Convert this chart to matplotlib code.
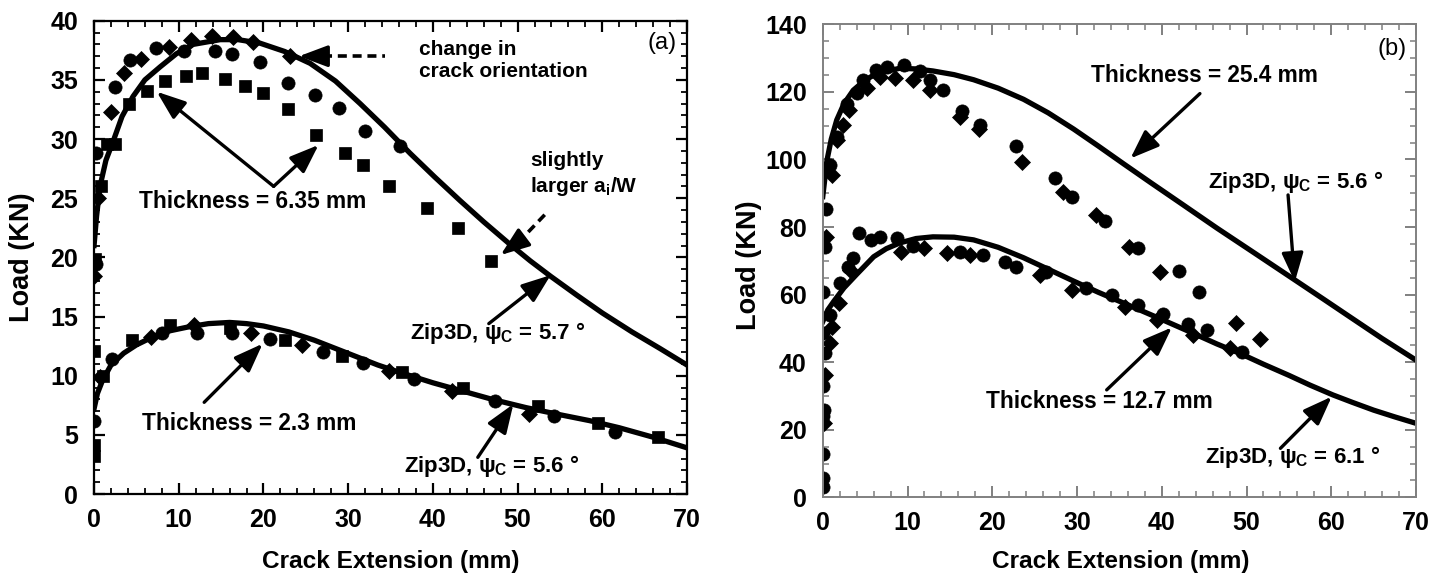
import matplotlib
matplotlib.use("Agg")
import matplotlib.pyplot as plt
from matplotlib.ticker import MultipleLocator

plt.rcParams['font.family'] = ['Liberation Sans', 'DejaVu Sans']
plt.rcParams['font.weight'] = 'bold'
plt.rcParams['mathtext.fontset'] = 'custom'
plt.rcParams['mathtext.rm'] = 'Liberation Sans:bold'
plt.rcParams['mathtext.it'] = 'Liberation Sans:bold'
plt.rcParams['mathtext.bf'] = 'Liberation Sans:bold'

# ---- panel (a) : thin sheets ----
# Zip3D curves
a_thick_x = [0, 0.3, 0.7, 1.4, 2.3, 3.3, 4.6, 6.0, 7.8, 9.7, 11.7, 14.9, 17.0, 19.6, 22.5, 25.5,
             28.5, 31.4, 34.3, 37.3, 40.2, 43.2, 46.0, 49.1, 51.5, 53.9, 57.0, 60.0, 63.5, 66.8, 70.0]
a_thick_y = [21.0, 23.5, 26.0, 28.2, 29.9, 31.9, 33.6, 35.0, 36.1, 37.2, 38.0, 38.4, 38.4, 38.1, 37.4, 36.4,
             34.9, 33.0, 31.0, 28.8, 26.8, 24.8, 23.0, 21.1, 19.7, 18.4, 16.8, 15.3, 13.7, 12.3, 10.9]
a_thin_x = [0, 0.4, 1.0, 2.0, 3.5, 5.0, 7.0, 9.0, 11.0, 13.5, 16.0, 18.0, 20.0, 23.0, 26.0, 28.5,
            31.0, 33.5, 36.0, 40.0, 43.5, 47.0, 51.0, 55.0, 58.5, 62.0, 66.0, 70.0]
a_thin_y = [7.2, 8.5, 9.6, 10.9, 11.9, 12.6, 13.3, 13.8, 14.1, 14.4, 14.5, 14.4, 14.2, 13.7, 13.0, 12.3,
            11.6, 10.9, 10.3, 9.4, 8.7, 8.0, 7.3, 6.7, 6.2, 5.6, 4.8, 3.9]

# test data, thickness 6.35 mm
a635_circ_x = [0.2, 0.2, 2.5, 4.2, 7.3, 10.6, 14.3, 16.3, 19.6, 22.9, 26.1, 28.9, 32.0, 36.1]
a635_circ_y = [28.8, 19.4, 34.4, 36.7, 37.7, 37.4, 37.4, 37.2, 36.5, 34.7, 33.7, 32.6, 30.7, 29.4]
a635_diam_x = [0.0, 0.5, 2.0, 3.5, 5.6, 8.8, 11.5, 13.9, 16.4, 18.8, 23.1]
a635_diam_y = [18.4, 25.0, 32.3, 35.6, 36.8, 37.8, 38.4, 38.7, 38.6, 38.2, 37.0]
a635_sq_x = [0.1, 0.8, 1.5, 2.5, 4.1, 6.2, 8.4, 10.9, 12.8, 15.4, 17.8, 19.9, 22.9, 26.2,
             29.6, 31.8, 34.8, 39.3, 43.0, 46.8]
a635_sq_y = [19.9, 26.0, 29.6, 29.6, 33.0, 34.1, 34.9, 35.3, 35.6, 35.1, 34.5, 33.9, 32.5, 30.3,
             28.8, 27.8, 26.0, 24.2, 22.5, 19.7]

# test data, thickness 2.3 mm
a23_circ_x = [0.0, 2.1, 8.0, 12.1, 16.3, 20.8, 27.0, 31.8, 37.8, 47.3, 54.3, 61.5]
a23_circ_y = [6.2, 11.4, 13.6, 13.6, 13.6, 13.1, 12.0, 11.1, 9.7, 7.9, 6.6, 5.2]
a23_diam_x = [0.7, 6.7, 11.8, 18.5, 24.5, 34.8, 42.3, 51.3]
a23_diam_y = [9.9, 13.3, 14.3, 13.6, 12.6, 10.4, 8.7, 6.8]
a23_sq_x = [0.0, 0.0, 0.0, 1.0, 4.5, 9.0, 16.0, 22.5, 29.3, 36.4, 43.5, 52.4, 59.5, 66.6]
a23_sq_y = [12.1, 3.2, 4.1, 10.0, 13.0, 14.3, 14.0, 13.0, 11.7, 10.3, 9.0, 7.4, 6.0, 4.8]

# ---- panel (b) : thick plates ----
b_thick_x = [0, 0.5, 1.0, 1.65, 2.5, 3.6, 5.0, 6.4, 9.1, 11.0, 13.0, 15.5, 17.8, 20.7, 23.7, 26.6,
             29.6, 32.5, 35.5, 38.6, 42.5, 46.5, 51.0, 55.9, 59.0, 62.2, 66.0, 70.0]
b_thick_y = [89.0, 99.8, 106.0, 111.7, 116.5, 120.5, 123.5, 125.5, 127.0, 126.8, 126.2, 125.1, 123.6,
             121.1, 117.8, 113.8, 109.0, 104.0, 98.7, 93.3, 86.6, 79.7, 72.2, 64.0, 58.8, 53.4, 47.0, 40.6]
b_thin_x = [0, 0.6, 1.3, 2.5, 4.0, 6.0, 7.5, 9.1, 11.0, 13.0, 15.5, 17.8, 20.7, 23.7, 26.7, 29.6,
            32.5, 35.5, 39.4, 43.3, 46.5, 49.4, 52.0, 55.0, 57.5, 60.2, 62.5, 65.0, 67.5, 70.0]
b_thin_y = [52.0, 55.5, 58.0, 62.0, 66.0, 71.2, 73.6, 75.3, 76.6, 77.1, 77.0, 76.2, 74.0, 70.9, 67.4,
            64.0, 60.7, 57.5, 53.3, 49.0, 45.4, 42.4, 39.4, 36.1, 33.2, 30.3, 28.1, 25.8, 23.8, 21.9]

b254_circ_x = [0.4, 0.9, 1.65, 2.9, 4.0, 4.8, 6.3, 7.6, 9.6, 11.5, 12.7, 14.2, 16.4, 18.5, 22.8,
               27.4, 29.4, 33.3, 37.2, 42.0, 44.4]
b254_circ_y = [85.2, 98.3, 106.7, 116.4, 119.7, 123.5, 126.5, 127.4, 128.1, 126.2, 123.5, 120.7, 114.3,
               110.2, 104.0, 94.4, 89.0, 81.8, 73.9, 67.0, 60.8]
b254_diam_x = [1.06, 1.7, 2.4, 3.1, 5.2, 6.7, 8.5, 10.6, 12.7, 16.2, 18.4, 23.5, 28.4, 32.2, 36.1,
               39.8, 48.8, 51.6]
b254_diam_y = [95.4, 105.7, 110.2, 114.6, 121.3, 124.5, 124.2, 123.5, 120.7, 112.5, 108.9, 99.3, 90.4,
               83.7, 74.2, 66.8, 51.7, 46.9]

b127_circ_x = [0.3, 0.0, 0.8, 0.0, 0.3, 0.0, 0.15, 0.0, 0.0, 0.0, 0.0, 2.0, 3.0, 3.6, 4.3, 5.7, 6.8,
               8.8, 10.7, 16.2, 18.9, 21.5, 22.8, 26.3, 31.1, 34.1, 37.2, 40.2, 43.1, 45.3, 49.5]
b127_circ_y = [74.2, 60.8, 54.0, 48.7, 42.6, 32.9, 25.8, 24.0, 12.8, 5.6, 3.2, 63.3, 68.2, 70.7, 78.1,
               76.1, 77.1, 76.9, 74.4, 72.7, 71.7, 69.7, 68.2, 66.8, 61.9, 59.9, 56.9, 54.4, 51.3, 49.6, 42.9]
b127_diam_x = [0.4, 1.06, 0.8, 0.3, 0.15, 1.9, 3.2, 9.2, 11.9, 14.6, 17.4, 25.6, 29.4, 35.7, 39.4,
               43.7, 48.1]
b127_diam_y = [77.1, 50.5, 45.8, 36.2, 21.9, 57.5, 67.3, 72.7, 73.7, 72.2, 71.7, 65.8, 61.3, 56.4, 52.5,
               48.0, 44.1]

TICK_FS = 18
NOTE_FS = 16

fig = plt.figure(figsize=(14.47, 5.82), dpi=100)
ax1 = fig.add_axes([0.0650, 0.1512, 0.4098, 0.8132])
ax2 = fig.add_axes([0.5686, 0.1455, 0.4100, 0.8127])

mk = dict(color='black', linestyle='none', mew=0.5)
ax1.plot(a_thick_x, a_thick_y, color='black', lw=3.8, zorder=2)
ax1.plot(a_thin_x, a_thin_y, color='black', lw=3.8, zorder=2)
ax1.plot(a635_circ_x, a635_circ_y, marker='o', ms=9.5, **mk)
ax1.plot(a635_diam_x, a635_diam_y, marker='D', ms=8.5, **mk)
ax1.plot(a635_sq_x, a635_sq_y, marker='s', ms=9, **mk)
ax1.plot(a23_circ_x, a23_circ_y, marker='o', ms=9.5, **mk)
ax1.plot(a23_diam_x, a23_diam_y, marker='D', ms=8.5, **mk)
ax1.plot(a23_sq_x, a23_sq_y, marker='s', ms=9, **mk)

ax2.plot(b_thick_x, b_thick_y, color='black', lw=3.8, zorder=2)
ax2.plot(b_thin_x, b_thin_y, color='black', lw=3.8, zorder=2)
ax2.plot(b254_circ_x, b254_circ_y, marker='o', ms=9.5, **mk)
ax2.plot(b254_diam_x, b254_diam_y, marker='D', ms=8.5, **mk)
ax2.plot(b127_circ_x, b127_circ_y, marker='o', ms=9.5, **mk)
ax2.plot(b127_diam_x, b127_diam_y, marker='D', ms=8.5, **mk)

ax1.set_xlim(0, 70)
ax1.set_ylim(0, 40)
ax2.set_xlim(0, 70)
ax2.set_ylim(0, 140)
ax1.xaxis.set_major_locator(MultipleLocator(10))
ax1.xaxis.set_minor_locator(MultipleLocator(2))
ax1.yaxis.set_major_locator(MultipleLocator(5))
ax1.yaxis.set_minor_locator(MultipleLocator(1))
ax2.xaxis.set_major_locator(MultipleLocator(10))
ax2.xaxis.set_minor_locator(MultipleLocator(2))
ax2.yaxis.set_major_locator(MultipleLocator(20))
ax2.yaxis.set_minor_locator(MultipleLocator(5))

for ax, col, w in [(ax1, 'black', 1.6), (ax2, '#808080', 1.4)]:
    for s in ax.spines.values():
        s.set_color(col)
        s.set_linewidth(w)
    ax.tick_params(which='both', direction='in', top=True, right=True, color=col,
                   labelsize=TICK_FS, labelcolor='black')
    ax.tick_params(which='major', length=8, width=w)
    ax.tick_params(which='minor', length=4, width=w * 0.8)
    ax.tick_params(axis='x', which='major', pad=10)
    ax.tick_params(axis='y', which='major', pad=11.5)
    ax.set_xlabel('Crack Extension (mm)', fontsize=17.6, fontweight='bold')
    ax.set_ylabel('Load (KN)', fontsize=19.5, fontweight='bold')

ax1.xaxis.set_label_coords(0.5, -0.142)
ax1.yaxis.set_label_coords(-0.121, 0.5)
ax2.xaxis.set_label_coords(0.503, -0.135)
ax2.yaxis.set_label_coords(-0.125, 0.49)
for ax in (ax1, ax2):
    ax.xaxis.label.set_va('center')
    ax.yaxis.label.set_va('center')

arrow = dict(arrowstyle='-|>,head_length=0.8,head_width=0.3', color='black', lw=2.4,
             mutation_scale=22, shrinkA=0, shrinkB=0)

# panel (a) notes
ax1.text(67.0, 38.1, '(a)', fontsize=17, fontweight='normal', ha='center', va='center')
ax1.text(38.3, 36.6, 'change in\ncrack orientation', fontsize=15, ha='left', va='center',
         linespacing=1.2)
ax1.plot([27.0, 34.4], [37.0, 37.0], color='black', lw=2.6, ls=(0, (2.5, 1.6)))
ax1.annotate('', xy=(24.2, 37.0), xytext=(27.2, 37.0), arrowprops=arrow)
ax1.text(5.3, 24.7, 'Thickness = 6.35 mm', fontsize=NOTE_FS + 0.3, ha='left', va='center')
ax1.annotate('', xy=(7.4, 34.0), xytext=(21.2, 26.0), arrowprops=arrow)
ax1.annotate('', xy=(26.5, 29.5), xytext=(21.2, 26.0), arrowprops=arrow)
ax1.text(51.5, 27.0, 'slightly\nlarger $a_{i}$/W', fontsize=15, ha='left', va='center',
         linespacing=1.3)
ax1.plot([53.2, 50.4], [23.6, 21.5], color='black', lw=2.6, ls=(0, (2.5, 1.6)))
ax1.annotate('', xy=(48.0, 20.2), xytext=(50.6, 21.6), arrowprops=arrow)
ax1.text(37.3, 13.6, r'Zip3D, $\psi_{\mathrm{C}}$ = 5.7 °', fontsize=NOTE_FS, ha='left', va='center')
ax1.annotate('', xy=(53.9, 18.5), xytext=(46.6, 14.4), arrowprops=arrow)
ax1.text(5.7, 6.0, 'Thickness = 2.3 mm', fontsize=NOTE_FS + 0.3, ha='left', va='center')
ax1.annotate('', xy=(19.9, 12.7), xytext=(13.0, 7.75), arrowprops=arrow)
ax1.text(36.6, 2.4, r'Zip3D, $\psi_{\mathrm{C}}$ = 5.6 °', fontsize=NOTE_FS, ha='left', va='center')
ax1.annotate('', xy=(49.5, 7.6), xytext=(45.3, 3.1), arrowprops=arrow)

# panel (b) notes
ax2.text(67.2, 132.6, '(b)', fontsize=17, fontweight='normal', ha='center', va='center')
ax2.text(31.7, 125.0, 'Thickness = 25.4 mm', fontsize=NOTE_FS + 0.3, ha='left', va='center')
ax2.annotate('', xy=(36.3, 100.3), xytext=(44.5, 119.5), arrowprops=arrow)
ax2.text(45.5, 93.4, r'Zip3D, $\psi_{\mathrm{C}}$ = 5.6 °', fontsize=NOTE_FS, ha='left', va='center')
ax2.annotate('', xy=(55.7, 63.8), xytext=(54.9, 89.5), arrowprops=arrow)
ax2.text(19.3, 28.3, 'Thickness = 12.7 mm', fontsize=NOTE_FS + 0.3, ha='left', va='center')
ax2.annotate('', xy=(41.2, 50.3), xytext=(33.5, 31.8), arrowprops=arrow)
ax2.text(45.1, 11.8, r'Zip3D, $\psi_{\mathrm{C}}$ = 6.1 °', fontsize=NOTE_FS, ha='left', va='center')
ax2.annotate('', xy=(60.05, 29.8), xytext=(54.0, 14.5), arrowprops=arrow)

fig.savefig('out.png', dpi=100)
